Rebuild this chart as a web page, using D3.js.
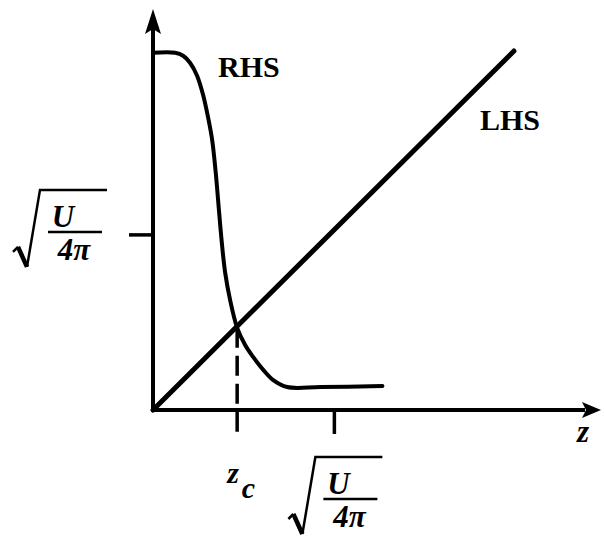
<!DOCTYPE html>
<html>
<head>
<meta charset="utf-8">
<script src="https://cdn.jsdelivr.net/npm/d3@7"></script>
<style>
  html, body { margin: 0; padding: 0; background: #fff; }
  svg { display: block; }
  text { font-family: "Liberation Serif", "DejaVu Serif", serif; fill: #000; }
</style>
</head>
<body>
<svg id="chart" width="604" height="540"></svg>
<script>
// Units: both axes measured in sqrt(U / 4π)
const zDomain = [0, 2.47];
const yDomain = [0, 2.29];
const tickZ = [1];            // marked value on the z axis
const tickY = [1];            // marked value on the vertical axis

// Left-hand side: straight line through the origin
const lhsZ = [0, 1.99];
const lhsV = [0, 2.05];

// Right-hand side: step-like curve falling from a plateau to a low floor
const rhsZ = [0, 0.122, 0.166, 0.204, 0.243, 0.276, 0.304, 0.326, 0.346, 0.362, 0.378,
              0.398, 0.425, 0.464, 0.508, 0.552, 0.608, 0.663, 0.740, 0.923, 1.265];
const rhsV = [2.04, 2.04, 2.023, 1.983, 1.909, 1.80, 1.669, 1.543, 1.354, 1.16, 0.971,
              0.783, 0.629, 0.469, 0.371, 0.303, 0.229, 0.171, 0.131, 0.131, 0.137];

// Crossing point z_c
const zc = 0.464, vc = 0.469;

const svg = d3.select("#chart");
const x = d3.scaleLinear().domain(zDomain).range([153, 601]);
const y = d3.scaleLinear().domain(yDomain).range([410, 9]);

const ink = "#000";

// Axes
svg.append("line")
  .attr("x1", x(0)).attr("y1", y(0)).attr("x2", x(0)).attr("y2", y(yDomain[1]) + 20)
  .attr("stroke", ink).attr("stroke-width", 4);
svg.append("line")
  .attr("x1", x(0) - 2).attr("y1", y(0)).attr("x2", x(zDomain[1]) - 16).attr("y2", y(0))
  .attr("stroke", ink).attr("stroke-width", 4);

// Arrow heads
const yt = y(yDomain[1]), xt = x(zDomain[1]);
svg.append("path")
  .attr("d", `M${x(0) - 8},${yt + 25} L${x(0)},${yt} L${x(0) + 8},${yt + 25} L${x(0)},${yt + 20} Z`)
  .attr("fill", ink);
svg.append("path")
  .attr("d", `M${xt - 19},${y(0) - 8} L${xt},${y(0)} L${xt - 19},${y(0) + 8} L${xt - 15},${y(0)} Z`)
  .attr("fill", ink);

// Tick marks
tickY.forEach(v => {
  svg.append("line")
    .attr("x1", x(0) - 24).attr("x2", x(0)).attr("y1", y(v)).attr("y2", y(v))
    .attr("stroke", ink).attr("stroke-width", 3.5);
});
tickZ.forEach(v => {
  svg.append("line")
    .attr("x1", x(v)).attr("x2", x(v)).attr("y1", y(0)).attr("y2", y(0) + 24)
    .attr("stroke", ink).attr("stroke-width", 3.5);
});

// Dashed drop line at z_c
svg.append("line")
  .attr("x1", x(zc)).attr("x2", x(zc)).attr("y1", y(vc)).attr("y2", y(0) + 28)
  .attr("stroke", ink).attr("stroke-width", 3.5)
  .attr("stroke-dasharray", "20 8");

// LHS line
const line = d3.line().x(d => x(d[0])).y(d => y(d[1]));
svg.append("path")
  .datum(d3.zip(lhsZ, lhsV))
  .attr("d", line)
  .attr("fill", "none").attr("stroke", ink).attr("stroke-width", 5)
  .attr("stroke-linecap", "round");

// RHS curve
svg.append("path")
  .datum(d3.zip(rhsZ, rhsV))
  .attr("d", line.curve(d3.curveCatmullRom.alpha(0.5)))
  .attr("fill", "none").attr("stroke", ink).attr("stroke-width", 4)
  .attr("stroke-linecap", "round");

// Curve labels
svg.append("text").attr("x", 218).attr("y", 77)
  .attr("font-size", 30).attr("font-weight", "bold").text("RHS");
svg.append("text").attr("x", 480).attr("y", 130)
  .attr("font-size", 30).attr("font-weight", "bold").text("LHS");

// sqrt(U / 4π) label, centred on the fraction bar at (cx, by)
function rootLabel(cx, by) {
  const g = svg.append("g");
  g.append("path")
    .attr("d", `M${cx - 62},${by + 20} L${cx - 57},${by + 15}`)
    .attr("stroke", ink).attr("stroke-width", 2.5).attr("fill", "none");
  g.append("path")
    .attr("d", `M${cx - 57},${by + 15} L${cx - 48},${by + 35}`)
    .attr("stroke", ink).attr("stroke-width", 4.5).attr("fill", "none");
  g.append("path")
    .attr("d", `M${cx - 48},${by + 35} L${cx - 35},${by - 42} L${cx + 32},${by - 42}`)
    .attr("stroke", ink).attr("stroke-width", 2.5).attr("fill", "none")
    .attr("stroke-linejoin", "miter");
  g.append("line")
    .attr("x1", cx - 27).attr("x2", cx + 27).attr("y1", by).attr("y2", by)
    .attr("stroke", ink).attr("stroke-width", 2.5);
  g.append("text").attr("x", cx - 12).attr("y", by - 5)
    .attr("text-anchor", "middle").attr("font-size", 31)
    .attr("font-weight", "bold").attr("font-style", "italic").text("U");
  g.append("text").attr("x", cx - 1).attr("y", by + 28)
    .attr("text-anchor", "middle").attr("font-size", 31)
    .attr("font-weight", "bold").attr("font-style", "italic").text("4π");
}
rootLabel(x(0) - 78, y(tickY[0]) - 3);
rootLabel(x(tickZ[0]) + 16, y(0) + 89);

// z_c label
const zcText = svg.append("text").attr("x", x(zc) - 10).attr("y", y(0) + 73)
  .attr("font-size", 30).attr("font-style", "italic").attr("font-weight", "bold");
zcText.append("tspan").text("z");
zcText.append("tspan").attr("dx", 3).attr("dy", 15).text("c");

// axis title
svg.append("text").attr("x", 577).attr("y", 442)
  .attr("font-size", 31).attr("font-style", "italic").attr("font-weight", "bold").text("z");
</script>
</body>
</html>
